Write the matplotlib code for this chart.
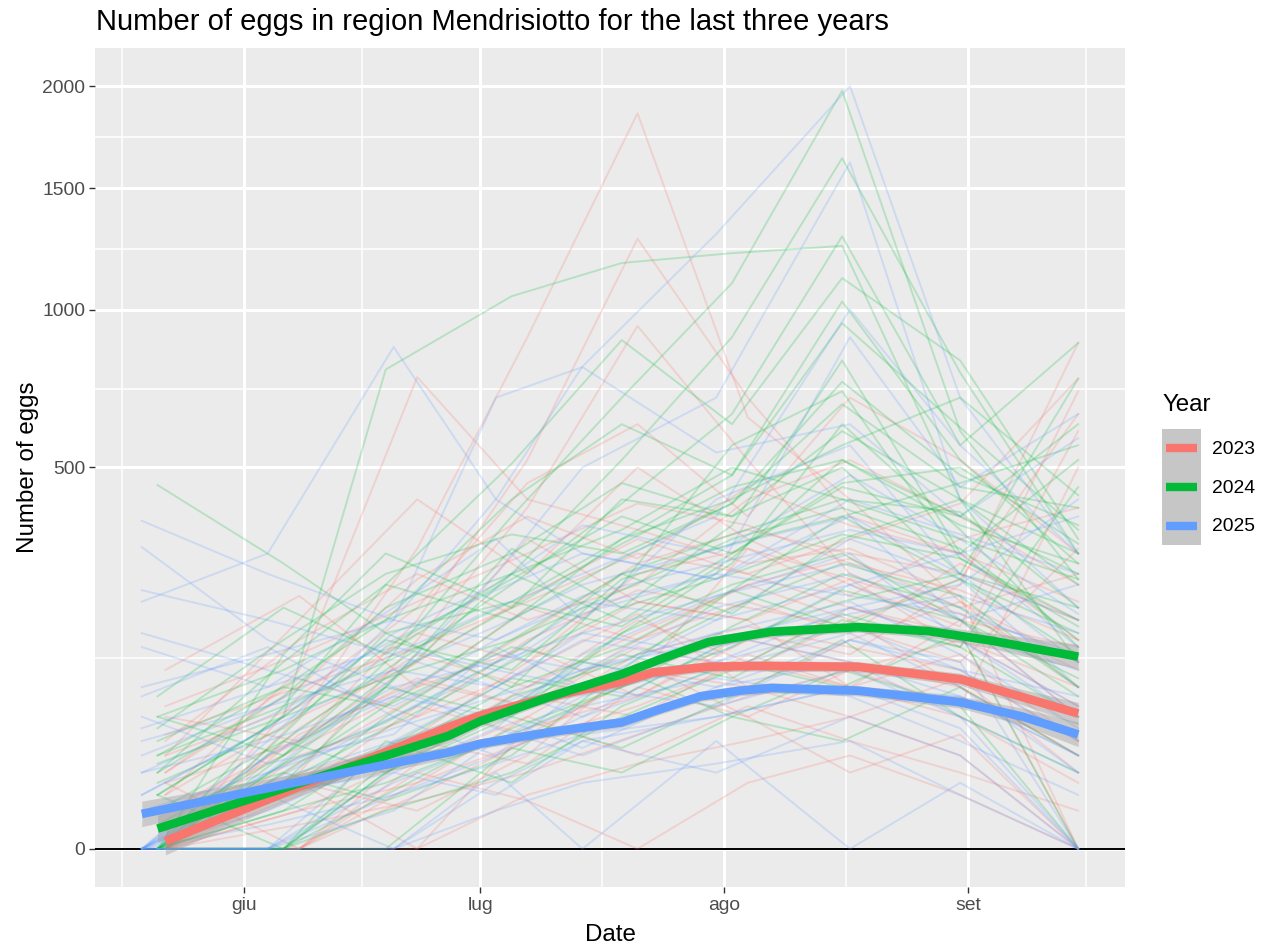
import numpy as np
import pandas as pd
import matplotlib
matplotlib.use("Agg")
import matplotlib.pyplot as plt
import matplotlib.dates as mdates
from matplotlib.lines import Line2D
from matplotlib.patches import Patch
from matplotlib.legend_handler import HandlerTuple, HandlerBase

plt.rcParams['font.family'] = ['Liberation Sans', 'DejaVu Sans']

# Data
years = ["2023", "2024", "2025"]
colors = ["#F8766D", "#00BA38", "#619CFF"]

dates_2023 = ["05-22", "06-08", "06-23", "07-07", "07-21", "08-04", "08-17", "08-31", "09-15"]
dates_2024 = ["05-21", "06-06", "06-19", "07-05", "07-19", "08-02", "08-16", "08-31", "09-15"]
dates_2025 = ["05-19", "06-04", "06-20", "07-03", "07-14", "07-31", "08-17", "08-31", "09-15"]

traps_2023 = [
    [0, 60, 310, 900, 1860, 640, 420, 210, 90],
    [5, 40, 180, 520, 1280, 700, 380, 300, 150],
    [0, 20, 150, 400, 940, 520, 260, 180, 60],
    [10, 110, 765, 420, 350, 280, 310, 220, 0],
    [0, 0, 35, 90, 160, 240, 180, 90, 30],
    [20, 90, 140, 210, 300, 260, 330, 410, 760],
    [0, 5, 15, 40, 70, 120, 90, 60, 15],
    [40, 150, 260, 180, 240, 420, 520, 380, 240],
    [0, 0, 0, 10, 25, 40, 60, 30, 0],
    [110, 220, 90, 140, 80, 160, 130, 240, 880],
    [0, 30, 60, 110, 190, 90, 150, 210, 120],
    [0, 2, 8, 20, 45, 80, 110, 150, 70],
    [60, 40, 120, 330, 210, 180, 90, 130, 40],
    [0, 12, 70, 45, 100, 310, 250, 140, 600],
    [15, 0, 25, 60, 30, 70, 40, 20, 5],
    [0, 80, 200, 460, 620, 380, 700, 520, 300],
    [5, 15, 5, 30, 120, 60, 20, 45, 0],
    [0, 45, 95, 70, 150, 210, 160, 280, 180],
    [30, 180, 420, 260, 500, 330, 240, 170, 720],
    [0, 0, 20, 8, 0, 15, 30, 10, 0],
    [0, 25, 80, 160, 280, 350, 300, 260, 180],
    [10, 60, 120, 220, 330, 260, 200, 150, 90],
    [0, 10, 45, 120, 210, 180, 250, 190, 110],
    [30, 70, 160, 120, 260, 310, 220, 330, 400],
    [0, 0, 15, 60, 130, 170, 140, 110, 40],
    [5, 35, 90, 200, 150, 240, 290, 200, 260],
    [0, 50, 130, 90, 180, 120, 200, 160, 0],
    [20, 100, 60, 150, 230, 200, 170, 120, 310],
    [0, 5, 30, 80, 60, 130, 90, 180, 140],
    [70, 130, 210, 300, 410, 360, 280, 230, 150],
    [0, 20, 40, 25, 90, 60, 110, 70, 500],
    [0, 0, 10, 40, 110, 90, 60, 100, 20],
    [45, 90, 250, 380, 290, 450, 360, 300, 210],
    [0, 15, 0, 50, 80, 150, 120, 90, 30],
    [15, 40, 100, 70, 140, 110, 180, 250, 650],
]

traps_2024 = [
    [2, 30, 120, 380, 700, 1100, 1976, 600, 250],
    [0, 15, 90, 260, 520, 900, 1640, 780, 300],
    [10, 60, 790, 1050, 1180, 1220, 1250, 420, 120],
    [455, 280, 160, 210, 330, 480, 1030, 520, 280],
    [0, 0, 25, 70, 160, 280, 620, 350, 140],
    [5, 40, 110, 240, 410, 650, 1290, 560, 880],
    [0, 10, 30, 90, 140, 230, 380, 250, 160],
    [20, 120, 240, 180, 330, 420, 560, 700, 430],
    [0, 0, 5, 20, 60, 110, 190, 140, 60],
    [60, 30, 90, 310, 200, 360, 820, 300, 520],
    [0, 25, 55, 130, 260, 190, 330, 420, 240],
    [0, 5, 15, 45, 90, 170, 260, 200, 90],
    [30, 90, 180, 420, 620, 480, 950, 610, 350],
    [0, 0, 40, 15, 70, 120, 90, 160, 0],
    [80, 200, 130, 260, 180, 300, 450, 380, 620],
    [0, 45, 160, 90, 240, 560, 720, 290, 180],
    [10, 0, 20, 60, 35, 80, 150, 60, 20],
    [0, 70, 240, 510, 890, 620, 1120, 820, 330],
    [5, 20, 8, 30, 110, 60, 40, 90, 30],
    [0, 130, 300, 200, 420, 380, 500, 260, 760],
    [25, 60, 100, 150, 260, 340, 420, 390, 200],
    [0, 0, 0, 35, 20, 60, 110, 70, 0],
    [0, 30, 100, 200, 320, 450, 520, 380, 260],
    [15, 50, 140, 250, 380, 300, 460, 500, 320],
    [0, 10, 60, 150, 230, 330, 400, 310, 150],
    [40, 90, 70, 180, 290, 410, 680, 450, 400],
    [0, 0, 20, 80, 120, 200, 280, 220, 90],
    [10, 60, 150, 110, 250, 320, 380, 460, 560],
    [0, 25, 90, 60, 160, 240, 300, 180, 100],
    [20, 80, 200, 300, 460, 380, 600, 420, 300],
    [0, 5, 35, 100, 80, 150, 210, 260, 200],
    [60, 110, 180, 260, 350, 500, 420, 330, 250],
    [0, 40, 20, 70, 130, 100, 180, 140, 450],
    [5, 15, 50, 120, 200, 260, 340, 290, 170],
    [30, 70, 120, 210, 170, 290, 520, 360, 280],
    [0, 20, 70, 140, 110, 230, 170, 250, 130],
    [0, 0, 10, 50, 90, 140, 230, 180, 80],
    [50, 150, 260, 340, 300, 410, 750, 480, 360],
]

traps_2025 = [
    [0, 40, 180, 420, 800, 1300, 2000, 700, 300],
    [5, 20, 100, 260, 500, 700, 1620, 420, 200],
    [210, 300, 866, 420, 300, 250, 380, 180, 60],
    [370, 260, 180, 700, 798, 540, 620, 380, 580],
    [0, 0, 10, 30, 60, 110, 160, 90, 20],
    [313, 150, 90, 120, 200, 260, 900, 450, 650],
    [0, 15, 40, 60, 35, 90, 120, 60, 0],
    [20, 60, 130, 200, 260, 380, 1000, 560, 300],
    [0, 0, 0, 5, 15, 25, 40, 10, 0],
    [80, 140, 60, 110, 90, 180, 240, 300, 140],
    [0, 30, 90, 50, 130, 220, 300, 150, 70],
    [0, 2, 10, 25, 45, 60, 90, 80, 30],
    [140, 90, 200, 330, 180, 420, 560, 260, 120],
    [0, 0, 20, 10, 40, 20, 60, 30, 0],
    [40, 70, 110, 90, 150, 120, 200, 240, 420],
    [0, 10, 0, 20, 0, 40, 0, 15, 0],
    [10, 50, 160, 240, 360, 300, 480, 330, 190],
    [0, 20, 50, 80, 110, 160, 210, 130, 50],
    [60, 25, 45, 140, 90, 70, 150, 110, 80],
    [0, 0, 5, 40, 70, 100, 80, 40, 10],
    [0, 20, 60, 120, 160, 220, 280, 200, 120],
    [10, 50, 110, 170, 240, 310, 380, 260, 180],
    [0, 5, 30, 70, 110, 150, 200, 150, 60],
    [90, 130, 180, 150, 220, 280, 350, 300, 380],
    [0, 0, 15, 40, 80, 120, 170, 110, 40],
    [160, 110, 70, 130, 110, 200, 260, 180, 240],
    [0, 30, 80, 60, 120, 90, 150, 120, 0],
    [30, 70, 150, 230, 300, 250, 420, 340, 260],
    [0, 10, 20, 50, 30, 70, 110, 60, 20],
    [50, 90, 140, 110, 190, 260, 220, 190, 130],
    [0, 0, 40, 90, 60, 140, 190, 220, 160],
    [20, 40, 80, 150, 210, 180, 330, 250, 90],
    [230, 180, 130, 90, 160, 130, 240, 160, 110],
    [0, 15, 60, 30, 90, 160, 120, 80, 30],
    [0, 0, 0, 15, 40, 60, 90, 50, 0],
]

# smoothed trend (loess) per year, with half-width of the band in sqrt units
smooth_dates_2023 = ["05-22", "06-08", "06-27", "07-01", "07-10", "07-19", "07-23", "07-30", "08-05", "08-18", "08-31", "09-08", "09-15"]
smooth_vals_2023 = [0.2, 13.3, 51, 61, 80, 96, 107, 114, 115, 114, 99, 79, 63]
smooth_se_2023 = [0.8, 0.55, 0.4, 0.35, 0.3, 0.3, 0.3, 0.3, 0.3, 0.3, 0.35, 0.45, 0.65]

smooth_dates_2024 = ["05-21", "06-08", "06-27", "07-01", "07-10", "07-19", "07-24", "07-30", "08-07", "08-18", "08-27", "09-04", "09-15"]
smooth_vals_2024 = [1.4, 14.8, 44, 56, 80, 105, 124, 147, 162, 169, 163, 149, 127]
smooth_se_2024 = [0.8, 0.55, 0.4, 0.35, 0.3, 0.3, 0.3, 0.3, 0.3, 0.3, 0.35, 0.45, 0.72]

smooth_dates_2025 = ["05-19", "06-08", "06-27", "07-01", "07-10", "07-19", "07-23", "07-29", "08-03", "08-07", "08-18", "08-31", "09-08", "09-15"]
smooth_vals_2025 = [4.2, 15.5, 32, 38, 47, 55, 65, 80, 86, 89, 86, 74, 60, 45]
smooth_se_2025 = [0.75, 0.5, 0.35, 0.3, 0.3, 0.3, 0.3, 0.3, 0.3, 0.3, 0.3, 0.35, 0.5, 0.72]

month_labels = ["giu", "lug", "ago", "set"]
y_breaks = [0, 500, 1000, 1500, 2000]


def to_dates(mmdd):
    return pd.to_datetime(["2024-" + s for s in mmdd])


def fwd(v):
    v = np.asarray(v, dtype=float)
    return np.sign(v) * np.sqrt(np.abs(v))


def inv(v):
    v = np.asarray(v, dtype=float)
    return np.sign(v) * v ** 2


class InsetLine(HandlerBase):
    # legend key line, a bit shorter than the grey key box
    def create_artists(self, legend, orig_handle, xdescent, ydescent,
                       width, height, fontsize, trans):
        inset = 0.1 * width
        yc = height / 2 - ydescent
        line = Line2D([inset - xdescent, width - inset - xdescent], [yc, yc],
                      color=orig_handle.get_color(), lw=orig_handle.get_linewidth(),
                      solid_capstyle="butt")
        line.set_transform(trans)
        return [line]


trap_dates = [dates_2023, dates_2024, dates_2025]
trap_sets = [traps_2023, traps_2024, traps_2025]
smooth_sets = [
    (smooth_dates_2023, smooth_vals_2023, smooth_se_2023),
    (smooth_dates_2024, smooth_vals_2024, smooth_se_2024),
    (smooth_dates_2025, smooth_vals_2025, smooth_se_2025),
]

fig = plt.figure(figsize=(12.7, 9.49), dpi=100)
ax = fig.add_axes([95 / 1270, 1 - 887 / 949, 1030 / 1270, 839 / 949])
ax.set_facecolor("#EBEBEB")
ax.set_yscale("function", functions=(fwd, inv))

ax.axhline(0, color="black", lw=1.4, zorder=2)

# raw trap series
for d, traps, col in zip(trap_dates, trap_sets, colors):
    x = to_dates(d)
    for t in traps:
        ax.plot(x, t, color=col, lw=1.4, alpha=0.22, zorder=3)

# smoothed trends with confidence band
for (d, v, se), col in zip(smooth_sets, colors):
    x = to_dates(d)
    s = fwd(v)
    se = np.array(se)
    ax.fill_between(x, inv(s - se), inv(s + se), color="#999999", alpha=0.4, lw=0, zorder=4)
    ax.plot(x, v, color=col, lw=6.2, solid_capstyle="butt", zorder=5)

# limits with 5% expansion like ggplot
all_x = np.concatenate([mdates.date2num(to_dates(d)) for d in trap_dates])
xmin, xmax = all_x.min(), all_x.max()
pad = (xmax - xmin) * 0.05
ax.set_xlim(xmin - pad, xmax + pad)
all_y = np.concatenate([np.ravel(t) for t in trap_sets])
smin, smax = 0.0, np.sqrt(all_y.max())
spad = (smax - smin) * 0.05
ax.set_ylim(inv(smin - spad), inv(smax + spad))

# x ticks: month starts, minor at midpoints
starts = mdates.date2num(pd.to_datetime(["2024-05-01", "2024-06-01", "2024-07-01",
                                          "2024-08-01", "2024-09-01", "2024-10-01"]))
major = starts[1:5]
minor = (starts[:-1] + starts[1:]) / 2
ax.set_xticks(major)
ax.set_xticklabels(month_labels)
ax.set_xticks(minor, minor=True)

ax.set_yticks(y_breaks)
ax.set_yticklabels([str(b) for b in y_breaks])
sb = np.sqrt(y_breaks)
ax.set_yticks(((sb[:-1] + sb[1:]) / 2) ** 2, minor=True)

ax.grid(which="major", color="white", lw=2.2)
ax.grid(which="minor", color="white", lw=1.1)
ax.set_axisbelow(True)
for sp in ax.spines.values():
    sp.set_visible(False)
ax.tick_params(which="major", length=4, width=1, color="#333333",
               labelsize=13.9, labelcolor="#4D4D4D", pad=3)
ax.tick_params(which="minor", length=0)

fig.text(96 / 1270, 1 - 22 / 949, "Number of eggs in region Mendrisiotto for the last three years",
         fontsize=21, ha="left", va="center")
fig.text(610 / 1270, 1 - 935 / 949, "Date", fontsize=17.4, ha="center", va="center")
fig.text(28 / 1270, 1 - 467 / 949, "Number of eggs", fontsize=17.4, ha="center", va="center",
         rotation=90)

# legend: title as separate text, keys below it
fig.text(1163 / 1270, 1 - 405 / 949, "Year", fontsize=17.4, ha="left", va="center")
handles = [(Patch(facecolor="#C6C6C6", edgecolor="none"), Line2D([], [], color=c, lw=6.0))
           for c in colors]
leg = fig.legend(handles, years, loc="upper left", bbox_to_anchor=(1162 / 1270, 1 - 429 / 949),
                 frameon=False, fontsize=13.9,
                 handler_map={tuple: HandlerTuple(ndivide=1, pad=0), Line2D: InsetLine()},
                 handlelength=2.0, handleheight=2.7, labelspacing=0, handletextpad=0.6,
                 borderpad=0, borderaxespad=0)

fig.savefig("out.png", dpi=100)
